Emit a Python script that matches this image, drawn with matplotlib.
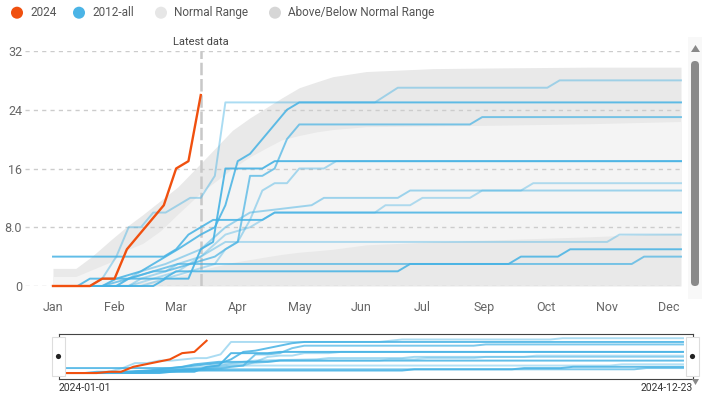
import matplotlib
matplotlib.use("Agg")
import matplotlib.pyplot as plt
from matplotlib.patches import FancyBboxPatch, Rectangle, Polygon

plt.rcParams['font.family'] = ['Roboto', 'DejaVu Sans']

W, H = 716, 405

# ---------------- data ----------------
month_labels = ["Jan", "Feb", "Mar", "Apr", "May", "Jun", "Jul", "Sep", "Oct", "Nov", "Dec"]
y_ticks = [0, 8, 16, 24, 32]
y_tick_labels = ["0", "8.0", "16", "24", "32"]
latest_day = 84
last_day = 357
nav_start_label = "2024-01-01"
nav_end_label = "2024-12-23"
legend_labels = ["2024", "2012-all", "Normal Range", "Above/Below Normal Range"]

days_2024 = [0, 7, 14, 21, 28, 35, 42, 49, 56, 63, 70, 77, 84]
vals_2024 = [0, 0, 0, 0, 1, 1, 5, 7, 9, 11, 16, 17, 26]

band_days = [0, 13, 22, 33, 42, 51, 61, 71, 84, 102, 112, 122, 130, 140, 150, 159, 178, 216, 254, 305, 357]
outer_upper = [2.4, 2.4, 4.0, 6.3, 8.1, 9.7, 11.6, 13.5, 16.7, 21.2, 22.9, 24.4, 25.6, 27.0, 27.8, 28.5, 29.2, 29.6, 29.7, 29.8, 29.8]
inner_upper = [1.3, 1.3, 2.2, 3.3, 4.9, 5.8, 7.5, 9.8, 12.7, 16.0, 17.6, 18.9, 19.9, 20.5, 21.0, 21.3, 21.7, 21.8, 21.9, 22.1, 22.4]
inner_lower = [0.2, 0.2, 0.2, 0.3, 0.3, 0.5, 0.8, 1.3, 2.2, 3.2, 3.6, 4.0, 4.3, 4.6, 4.8, 5.0, 5.6, 6.0, 6.3, 6.7, 7.2]
outer_lower = [0] * 21

days_a = [0, 21, 28, 36, 43, 50, 57, 64, 71, 78, 84, 92, 98, 183, 196, 281, 288, 357]
vals_a = [0, 0, 1, 4, 8, 8, 10, 10, 11, 12, 12, 15, 25, 25, 27, 27, 28, 28]
days_b = [0, 28, 36, 50, 57, 64, 71, 84, 92, 98, 105, 112, 133, 140, 357]
vals_b = [0, 0, 1, 2, 3, 4, 5, 7, 8, 11, 17, 18, 24, 25, 25]
days_c = [0, 36, 43, 57, 64, 78, 92, 98, 105, 112, 119, 126, 133, 140, 237, 244, 357]
vals_c = [0, 0, 1, 2, 2, 3, 4, 5, 6, 15, 15, 16, 20, 22, 22, 23, 23]
days_d = [0, 57, 64, 77, 84, 91, 98, 119, 126, 357]
vals_d = [0, 0, 1, 1, 5, 6, 16, 16, 17, 17]
days_e = [0, 43, 50, 64, 71, 84, 91, 98, 105, 112, 119, 126, 133, 140, 154, 161, 357]
vals_e = [0, 0, 1, 2, 3, 4, 5, 6, 6, 9, 13, 14, 14, 16, 16, 17, 17]
days_f = [0, 36, 50, 64, 84, 98, 112, 147, 154, 196, 203, 357]
vals_f = [0, 0, 2, 3, 5, 8, 10, 11, 12, 12, 13, 13]
days_h = [0, 43, 57, 71, 84, 98, 112, 126, 183, 189, 203, 210, 237, 244, 266, 273, 357]
vals_h = [0, 0, 1, 2, 4, 7, 8, 10, 10, 11, 11, 12, 12, 13, 13, 14, 14]
days_g = [0, 63, 70, 77, 84, 91, 119, 126, 357]
vals_g = [4, 4, 5, 7, 8, 9, 9, 10, 10]
days_i = [0, 50, 64, 78, 92, 98, 105, 315, 322, 357]
vals_i = [0, 0, 1, 2, 3, 5, 6, 6, 7, 7]
days_k = [0, 14, 21, 63, 70, 196, 203, 259, 266, 287, 294, 357]
vals_k = [0, 0, 1, 1, 2, 2, 3, 3, 4, 4, 5, 5]
days_j = [0, 28, 43, 57, 71, 329, 336, 357]
vals_j = [0, 0, 1, 2, 3, 3, 4, 4]

history = [
    (days_a, vals_a, 0.45), (days_b, vals_b, 0.85), (days_c, vals_c, 0.7),
    (days_d, vals_d, 0.9), (days_e, vals_e, 0.45), (days_f, vals_f, 0.5),
    (days_h, vals_h, 0.4), (days_g, vals_g, 0.85), (days_i, vals_i, 0.4),
    (days_k, vals_k, 0.85), (days_j, vals_j, 0.7),
]

ORANGE = '#f0500f'
BLUE = '#45b2e4'
DARK_BAND = '#e9e9e9'
LIGHT_BAND = '#f4f4f4'

# ---------------- figure ----------------
fig = plt.figure(figsize=(W / 100, H / 100), dpi=100)

# main axes: pixel box x 25..681, y 51..286; day 0 at x=53
ax = fig.add_axes([25 / W, 1 - 286 / H, (681 - 25) / W, (286 - 51) / H])
ppd = (681 - 53) / last_day
ax.set_xlim(-(53 - 25) / ppd, last_day)
ax.set_ylim(0, 32)

ax.fill_between(band_days, outer_lower, outer_upper, color=DARK_BAND, lw=0, zorder=0.2)
ax.fill_between(band_days, inner_lower, inner_upper, color=LIGHT_BAND, lw=0, zorder=0.3)

ax.set_yticks(y_ticks)
ax.set_yticklabels(y_tick_labels)
ax.set_xticks([i * 35 for i in range(len(month_labels))])
ax.set_xticklabels(month_labels)
ax.yaxis.grid(True, color='#cccccc', lw=1, linestyle=(0, (3, 3)))
ax.set_axisbelow(True)
for s in ax.spines.values():
    s.set_visible(False)
ax.tick_params(axis='both', length=0, labelcolor='#666666', labelsize=9)
ax.tick_params(axis='y', pad=2)
ax.tick_params(axis='x', pad=11)

ax.axvline(latest_day, color='#c8c8c8', lw=1.8, dashes=(5, 1.5), zorder=1.5)
ax.annotate("Latest data", xy=(latest_day, 32), xytext=(0, 3), textcoords='offset points',
            ha='center', va='bottom', fontsize=8, color='#444444')

for d, v, a in history:
    ax.plot(d, v, color=BLUE, alpha=a, lw=1.4, clip_on=False, zorder=2,
            solid_joinstyle='round')
ax.plot(days_2024, vals_2024, color=ORANGE, lw=1.7, clip_on=False, zorder=3,
        solid_joinstyle='round')

# ---------------- navigator ----------------
nav = fig.add_axes([58.5 / W, 1 - 379 / H, (693 - 58.5) / W, 45 / H])
nppd = (683 - 60) / last_day
nav.set_xlim(-(60 - 58.5) / nppd, last_day + (693 - 683) / nppd)
nav.set_ylim(-4.8, 31.4)
for d, v, a in history:
    nav.plot(d, v, color=BLUE, alpha=a, lw=1.4)
nav.plot(days_2024, vals_2024, color=ORANGE, lw=1.5)
nav.set_xticks([])
nav.set_yticks([])
for s in nav.spines.values():
    s.set_color('#444444')
    s.set_linewidth(0.8)

# ---------------- overlay (legend, scrollbar, handles) ----------------
ov = fig.add_axes([0, 0, 1, 1], zorder=10)
ov.set_xlim(0, W)
ov.set_ylim(H, 0)
ov.axis('off')
ov.patch.set_alpha(0)

leg_colors = [ORANGE, '#4bb4e6', '#e6e6e6', '#d6d6d6']
leg_dot_x = [17, 79, 161, 275]
for lbl, c, x in zip(legend_labels, leg_colors, leg_dot_x):
    ov.scatter([x], [12.7], s=75, color=c, edgecolors='none')
    ov.text(x + 13, 12.7, lbl, ha='left', va='center', fontsize=8.5, color='#555555')

# scrollbar
ov.add_patch(Rectangle((688, 37), 14, 262, color='#f8f8f8', lw=0))
ov.add_patch(FancyBboxPatch((691, 61), 8, 225, boxstyle='round,pad=0,rounding_size=4',
                            color='#8a8a8a', lw=0))
ov.add_patch(Polygon([[691, 52], [700, 52], [695.5, 45]], closed=True, color='#888888', lw=0))

# navigator handles
for hx in (58.5, 692.5):
    ov.add_patch(Rectangle((hx - 6.5, 337), 13, 39, facecolor='white', edgecolor='#dddddd', lw=0.8))
    ov.scatter([hx], [356.5], s=14, color='#222222', edgecolors='none')
ov.add_patch(Polygon([[692, 379], [699, 379], [695.5, 385]], closed=True, color='#888888', lw=0))
ov.text(58.5, 388, nav_start_label, ha='left', va='center', fontsize=7.5, color='#333333')
ov.text(693, 388, nav_end_label, ha='right', va='center', fontsize=7.5, color='#333333')

fig.savefig("out.png", dpi=100)
